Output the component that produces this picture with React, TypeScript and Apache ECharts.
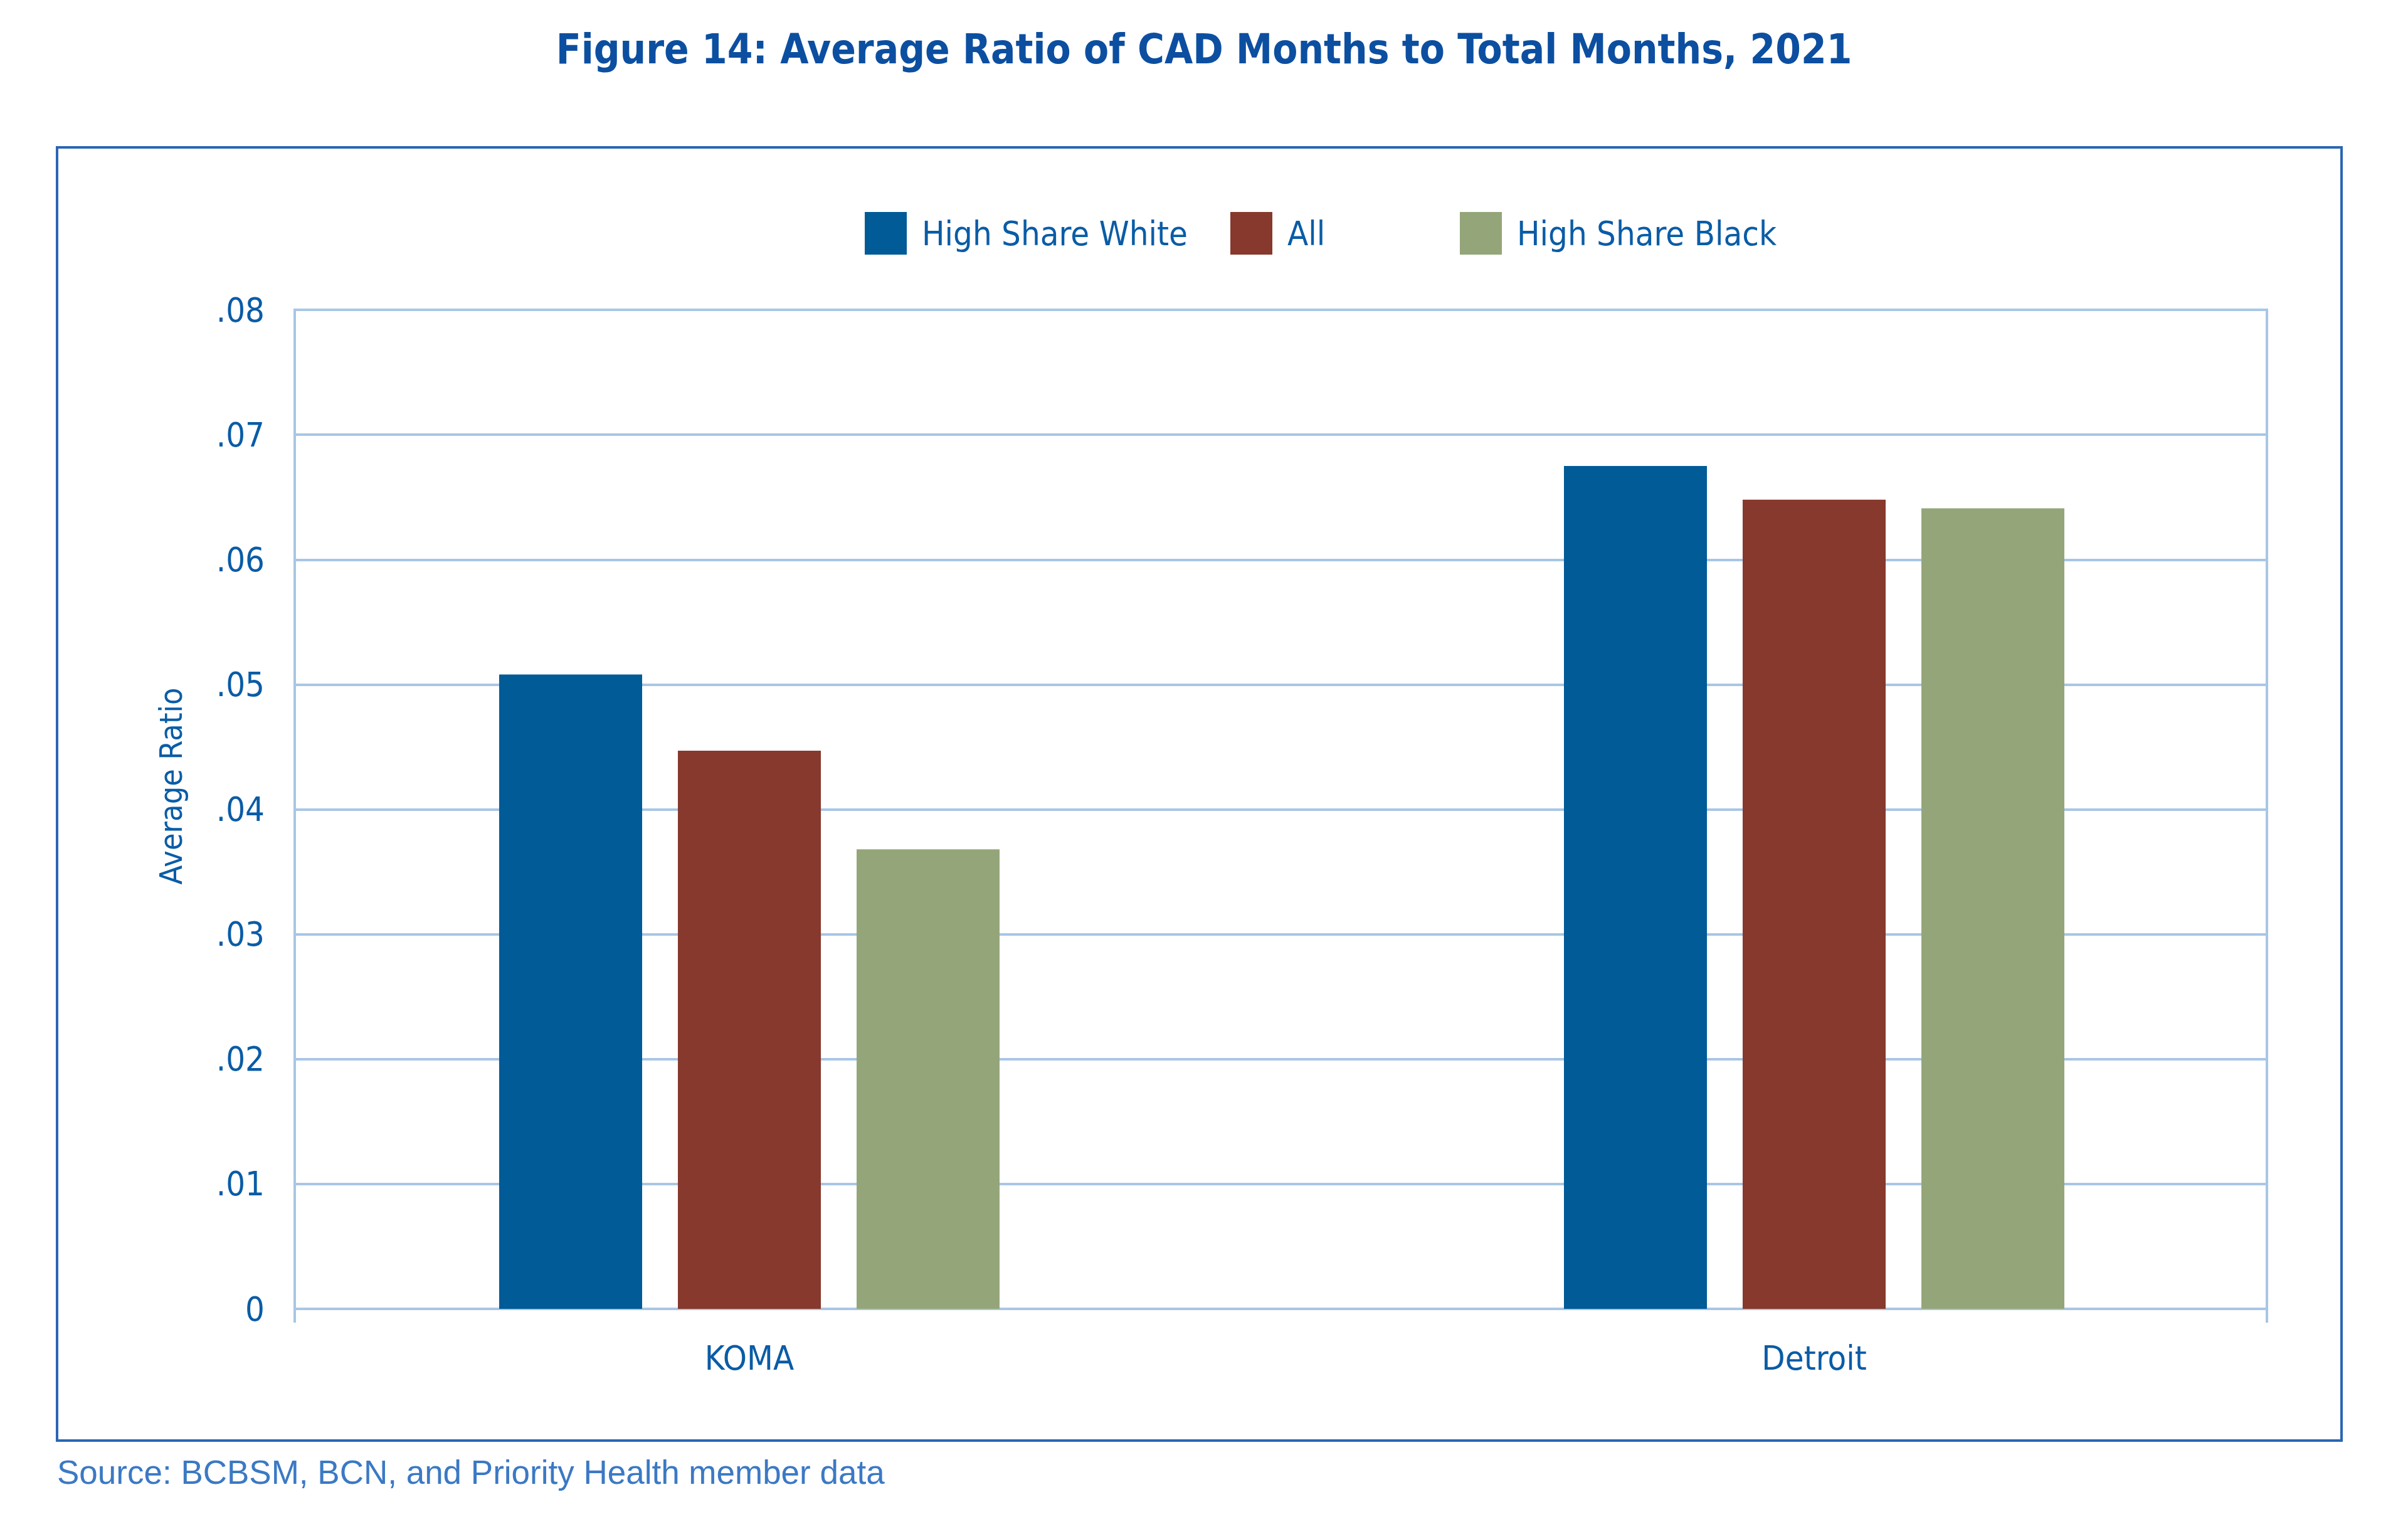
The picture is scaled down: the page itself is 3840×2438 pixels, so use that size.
import React, { useEffect, useRef } from "react";
import * as echarts from "echarts";

const titleText = "Figure 14: Average Ratio of CAD Months to Total Months, 2021";
const sourceText = "Source: BCBSM, BCN, and Priority Health member data";
const categories = ["KOMA", "Detroit"];
const seriesNames = ["High Share White", "All", "High Share Black"];
const highShareWhite = [0.0508, 0.0675];
const allValues = [0.0447, 0.0648];
const highShareBlack = [0.0368, 0.0641];
const yTickLabels = ["0", ".01", ".02", ".03", ".04", ".05", ".06", ".07", ".08"];
const yAxisName = "Average Ratio";

const COLORS = ["#005b97", "#86392c", "#94a679"];
const GRID_COLOR = "#a8c6e6";
const TEXT_BLUE = "#0a5ca6";
const NARROW = "'Liberation Sans Narrow', 'DejaVu Sans Condensed', 'Liberation Sans', sans-serif";

export default function App() {
  const ref = useRef<HTMLDivElement>(null);

  useEffect(() => {
    document.body.style.margin = "0";
    document.body.style.overflow = "hidden";
    if (!ref.current) return;
    const chart = echarts.init(ref.current, undefined, { renderer: "svg" });

    const values = [highShareWhite, allValues, highShareBlack];
    const legendLefts = [1379, 1962, 2328];

    const option: any = {
      animation: false,
      backgroundColor: "#ffffff",
      title: {
        text: titleText,
        left: "center",
        top: 46,
        padding: 0,
        textStyle: {
          fontFamily: NARROW,
          fontWeight: "bold",
          fontSize: 65,
          color: "#0c4fa1",
        },
      },
      legend: seriesNames.map((name, i) => ({
        data: [name],
        left: legendLefts[i],
        top: 338,
        padding: 0,
        itemWidth: 67,
        itemHeight: 68,
        icon: "rect",
        selectedMode: false,
        textStyle: {
          fontFamily: NARROW,
          fontSize: 54,
          color: TEXT_BLUE,
          padding: [0, 0, 0, 19],
        },
      })),
      grid: [
        {
          left: 470,
          top: 494,
          width: 3145,
          height: 1593,
          show: true,
          borderColor: GRID_COLOR,
          borderWidth: 4,
          backgroundColor: "transparent",
        },
        {
          left: 346,
          top: 494,
          width: 3396,
          height: 1593,
        },
      ],
      xAxis: [
        {
          gridIndex: 0,
          type: "category",
          data: [""],
          boundaryGap: true,
          axisLine: { show: true, lineStyle: { color: GRID_COLOR, width: 4 } },
          axisTick: { show: true, length: 22, lineStyle: { color: GRID_COLOR, width: 4 } },
          axisLabel: { show: false },
          splitLine: { show: false },
        },
        {
          gridIndex: 1,
          type: "category",
          data: categories,
          boundaryGap: true,
          axisLine: { show: false },
          axisTick: { show: false },
          splitLine: { show: false },
          axisLabel: {
            margin: 51,
            fontFamily: NARROW,
            fontSize: 54,
            color: TEXT_BLUE,
          },
        },
      ],
      yAxis: [
        {
          gridIndex: 0,
          type: "value",
          min: 0,
          max: 0.08,
          interval: 0.01,
          axisLine: { show: true, lineStyle: { color: GRID_COLOR, width: 4 } },
          axisTick: { show: false },
          splitLine: { show: true, lineStyle: { color: GRID_COLOR, width: 4 } },
          axisLabel: {
            margin: 48,
            fontFamily: NARROW,
            fontSize: 54,
            color: TEXT_BLUE,
            formatter: (v: number) => yTickLabels[Math.round(v * 100)] ?? "",
          },
          name: yAxisName,
          nameLocation: "middle",
          nameRotate: 90,
          nameGap: 172,
          nameTextStyle: {
            fontFamily: NARROW,
            fontSize: 50,
            color: TEXT_BLUE,
            padding: [0, 0, 0, 74],
          },
        },
        {
          gridIndex: 1,
          type: "value",
          min: 0,
          max: 0.08,
          interval: 0.01,
          show: false,
          splitLine: { show: false },
        },
      ],
      series: seriesNames.map((name, i) => ({
        name,
        type: "bar",
        xAxisIndex: 1,
        yAxisIndex: 1,
        data: values[i],
        barWidth: 228,
        barGap: "25%",
        itemStyle: { color: COLORS[i] },
        emphasis: { disabled: true },
      })),
      graphic: [
        {
          type: "rect",
          shape: { x: 91, y: 235, width: 3643, height: 2062 },
          style: { fill: "none", stroke: "#2a66b4", lineWidth: 4 },
          silent: true,
          z: -1,
        },
        {
          type: "text",
          x: 91,
          y: 2321,
          style: {
            text: sourceText,
            font: "53px 'Liberation Sans', Arial, sans-serif",
            fill: "#3b79c4",
            align: "left",
            verticalAlign: "top",
          },
          silent: true,
        },
      ],
    };

    chart.setOption(option);
    return () => chart.dispose();
  }, []);

  return (
    <div
      ref={ref}
      style={{ position: "absolute", left: 0, top: 0, width: 3840, height: 2438 }}
    />
  );
}
